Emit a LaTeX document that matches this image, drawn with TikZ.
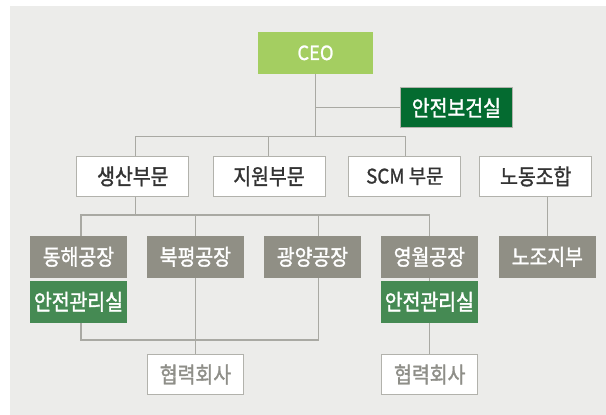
\documentclass[tikz,border=0pt]{standalone}
\usepackage{fontspec}
\setmainfont{Noto Sans CJK KR}[FakeStretch=0.88, FakeBold=1.5]
\newfontfamily\latinfont{Noto Sans CJK KR}[FakeStretch=0.94, FakeBold=1.2]
\definecolor{bgc}{HTML}{ECECEA}
\definecolor{ceoc}{HTML}{A4CE61}
\definecolor{darkg}{HTML}{046B30}
\definecolor{midg}{HTML}{458A53}
\definecolor{grayb}{HTML}{908F85}
\definecolor{linec}{HTML}{A9A9A3}
\definecolor{bordc}{HTML}{B2B2AC}
\definecolor{txtc}{HTML}{333333}
\definecolor{ptxt}{HTML}{8E8E88}
\begin{document}
\begin{tikzpicture}[x=1pt,y=-1pt,
  box/.style={inner sep=0pt, minimum height=41pt, font=\fontsize{22}{23}\selectfont},
  whitebox/.style={box, fill=white, draw=bordc, line width=1pt, text=txtc, minimum width=112pt, minimum height=40pt},
  graybox/.style={box, fill=grayb, text=white, minimum width=97pt, minimum height=41.7pt},
  safebox/.style={box, fill=midg, text=white, minimum width=97pt, minimum height=41.7pt},
  partbox/.style={box, fill=white, draw=bordc, line width=1pt, text=ptxt, minimum width=96pt, minimum height=40.6pt},
  conn/.style={draw=linec, line width=1.2pt}]
\useasboundingbox (0,0) rectangle (606,415);
\fill[bgc] (10,6) rectangle (606,415);

\node[box, fill=ceoc, text=white, minimum width=115pt, minimum height=41.7pt, font=\latinfont\fontsize{19.5}{21}\selectfont] (ceo) at (315.5,52.85) {CEO};
\node[box, fill=darkg, text=white, draw=bordc, line width=1pt, minimum width=112.3pt, minimum height=40pt] (hs) at (456.35,107.8) {안전보건실};

\node[whitebox] (prod) at (132.8,176.35) {생산부문};
\node[whitebox] (supp) at (269,176.35) {지원부문};
\node[whitebox, font=\latinfont\fontsize{20}{21}\selectfont] (scm) at (404.8,176.35) {SCM 부문};
\node[whitebox] (union) at (535.8,176.35) {노동조합};

\node[graybox] (dh) at (78.5,256.85) {동해공장};
\node[graybox] (bp) at (195.35,256.85) {북평공장};
\node[graybox] (gy) at (312.5,256.85) {광양공장};
\node[graybox] (yw) at (429.35,256.85) {영월공장};
\node[graybox] (nj) at (547.35,256.85) {노조지부};

\node[safebox] (s1) at (78.5,301.85) {안전관리실};
\node[safebox] (s2) at (429.35,301.85) {안전관리실};

\node[partbox] (p1) at (195.5,374.5) {협력회사};
\node[partbox] (p2) at (429.8,374.5) {협력회사};

% top connectors
\coordinate (b1) at (135.3,136.7);
\coordinate (b2) at (268.7,136.7);
\coordinate (b3) at (405.3,136.7);
\draw[conn] (ceo.south) |- (hs.west);
\draw[conn] (ceo.south) -- (ceo.south |- b2);
\draw[conn] (prod.north -| b1) -- (b1) -- (b3) -- (scm.north -| b3);
\draw[conn] (b2) -- (supp.north -| b2);
\draw[conn] (union.south -| nj.north) -- (nj.north);

% level 3 bar
\coordinate (c0) at (135.3,215);
\coordinate (c1) at (81,215);
\coordinate (c3) at (318.7,215);
\coordinate (c4) at (429.7,215);
\draw[conn] (prod.south -| c0) -- (c0);
\draw[conn] (dh.north -| c1) -- (c1) -- (c4) -- (yw.north -| c4);
\draw[conn] (bp.north) -- (bp.north |- c0);
\draw[conn] (gy.north -| c3) -- (c3);

% lower connectors
\coordinate (d1) at (81,340);
\draw[conn] (s1.south -| d1) -- (d1) -| (gy.south -| c3);
\draw[conn] (bp.south) -- (p1.north -| bp.south);
\draw[conn] (yw.south -| c4) -- (s2.north -| c4);
\draw[conn] (s2.south -| c4) -- (p2.north -| c4);
\end{tikzpicture}
\end{document}
